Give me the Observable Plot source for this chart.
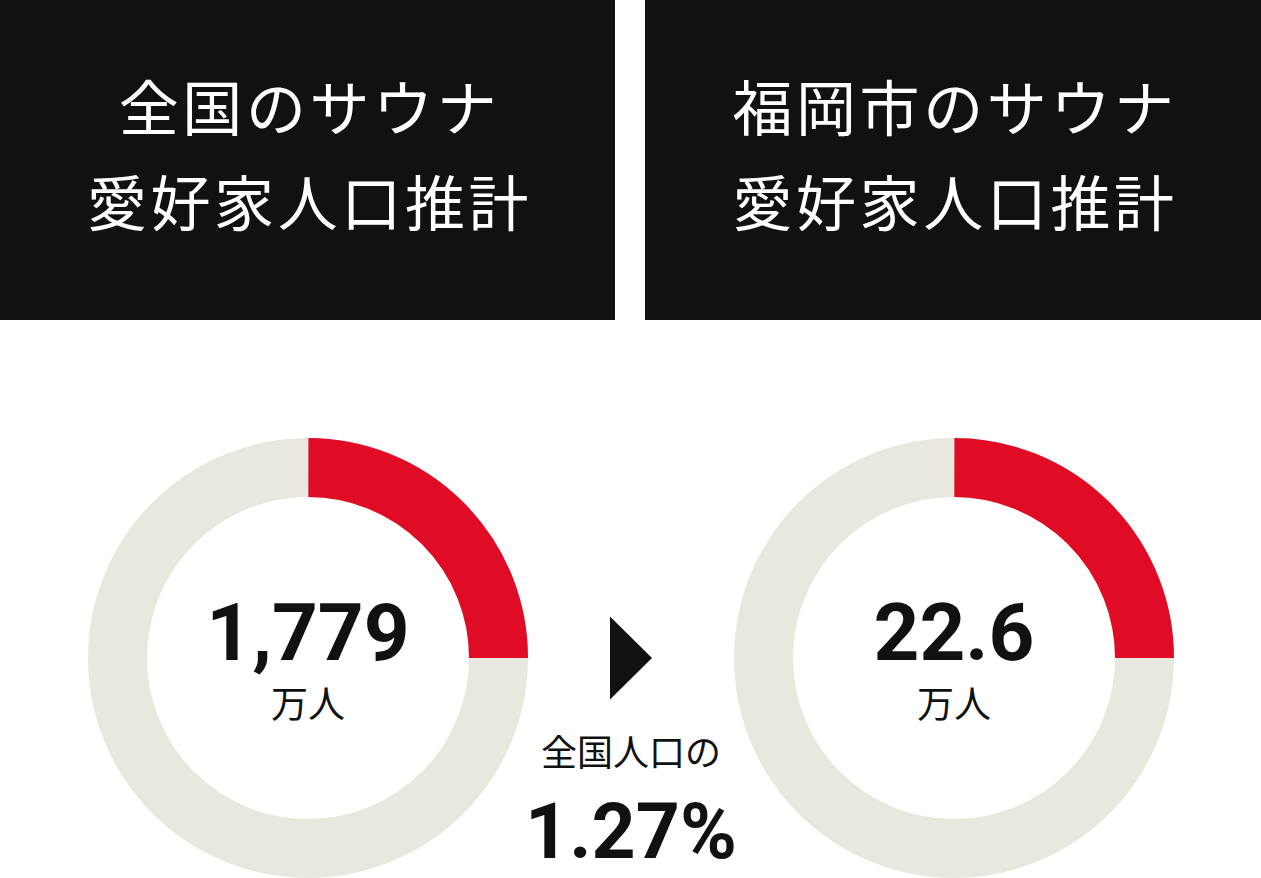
<!DOCTYPE html>
<html>
<head>
<meta charset="utf-8">
<script src="https://cdn.jsdelivr.net/npm/d3@7"></script>
<script src="https://cdn.jsdelivr.net/npm/@observablehq/plot@0.6"></script>
<style>
  html, body { margin: 0; padding: 0; background: #fff; }
  #wrap { width: 1261px; }
  .headers { display: flex; justify-content: space-between; height: 320px; }
  .box {
    background: #111111; color: #fff; height: 320px; box-sizing: border-box;
    padding-top: 57px; padding-left: 4px; text-align: center;
    font-family: "Noto Sans CJK JP", "Noto Sans", sans-serif; font-weight: 400;
    font-size: 60px; line-height: 95px; letter-spacing: 0.06em;
  }
  #chart svg { display: block; }
  g[aria-label="value"] text { letter-spacing: 3px; }
  g[aria-label="unit"] text { letter-spacing: 6px; }
  g[aria-label="ratio"] text { letter-spacing: 3px; }
</style>
</head>
<body>
<div id="wrap">
  <div class="headers" id="headers"></div>
  <div id="chart"></div>
</div>
<script>
// ---- data ----
const categories = ["全国", "福岡市"];
const headerLine1 = ["全国のサウナ", "福岡市のサウナ"];
const headerLine2 = ["愛好家人口推計", "愛好家人口推計"];
const values = [1779, 22.6];          // 万人
const units = ["万人", "万人"];
const shares = [0.25, 0.25];          // highlighted share of each ring
const ratioLabel = "全国人口の";
const ratioValue = 1.27;              // %

// ---- styles ----
const RED = "#E00B24";
const GREY = "#E9E8DF";
const INK = "#111111";
const R = 190.5, RING = 59, C = 2 * Math.PI * R;

// ---- headers (above the SVG) ----
const boxWidths = [615, 616];
const headers = document.getElementById("headers");
categories.forEach((c, i) => {
  const div = document.createElement("div");
  div.className = "box";
  div.style.width = boxWidths[i] + "px";
  div.innerHTML = headerLine1[i] + "<br>" + headerLine2[i];
  headers.appendChild(div);
});

const donuts = categories.map((name, i) => ({name, value: values[i], unit: units[i], share: shares[i]}));

const arrow = {
  draw(context, size) {
    const r = Math.sqrt(size / Math.PI);
    const hw = r * 0.506;
    context.moveTo(-hw, -r);
    context.lineTo(hw, 0);
    context.lineTo(-hw, r);
    context.closePath();
  }
};

const chart = Plot.plot({
  width: 1261,
  height: 558,
  marginTop: 117,
  marginBottom: 0,
  marginLeft: 0,
  marginRight: 0,
  x: {type: "band", domain: categories, range: [0, 1261], paddingInner: 0.048, paddingOuter: 0, axis: null},
  marks: [
    Plot.dot(donuts, {x: "name", frameAnchor: "middle", r: R, stroke: GREY, strokeWidth: RING, fill: "none"}),
    ...donuts.map(d => Plot.dot([d], {
      x: "name", frameAnchor: "middle", r: R, stroke: RED, strokeWidth: RING, fill: "none",
      strokeDasharray: `${d.share * C} ${C - d.share * C}`, strokeDashoffset: C / 4
    })),
    Plot.text(donuts, {
      x: "name", frameAnchor: "middle", text: d => d3.format(",")(d.value), dy: -24,
      fontSize: 80, fontWeight: 700, fontFamily: "Roboto", fill: INK, ariaLabel: "value"
    }),
    Plot.text(donuts, {
      x: "name", frameAnchor: "middle", text: "unit", dy: 48,
      fontSize: 37, fontFamily: "Noto Sans CJK JP", fill: INK, ariaLabel: "unit"
    }),
    Plot.dot([ratioValue], {frameAnchor: "middle", symbol: arrow, r: 41.5, fill: INK, stroke: "none", ariaLabel: "arrow"}),
    Plot.text([ratioLabel], {
      frameAnchor: "middle", text: d => d, dy: 96,
      fontSize: 36, fontFamily: "Noto Sans CJK JP", fill: INK, ariaLabel: "ratio-label"
    }),
    Plot.text([ratioValue], {
      frameAnchor: "middle", text: d => d3.format(".2f")(d) + "%", dy: 175,
      fontSize: 77, fontWeight: 700, fontFamily: "Roboto", fill: INK, ariaLabel: "ratio"
    })
  ]
});
document.getElementById("chart").appendChild(chart);
</script>
</body>
</html>
